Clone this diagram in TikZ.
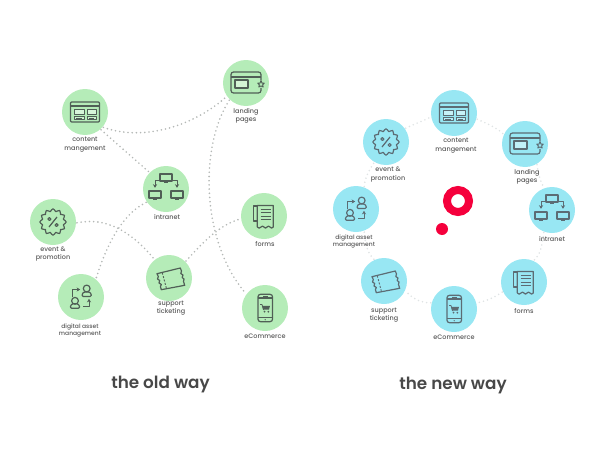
\documentclass[tikz,border=0pt]{standalone}
\usepackage{fontspec}
\setmainfont{Poppins}
\newfontfamily\labfont{Poppins Medium}
\newfontfamily\titlefont{Poppins SemiBold}
\usetikzlibrary{arrows.meta}
\definecolor{greenfill}{HTML}{B5ECB8}
\definecolor{bluefill}{HTML}{98E7F3}
\definecolor{greenicon}{HTML}{505F56}
\definecolor{blueicon}{HTML}{5C6C74}
\definecolor{labelgray}{HTML}{5A5A5A}
\definecolor{titlegray}{HTML}{484848}
\definecolor{olddot}{HTML}{B4B8B6}
\definecolor{newdot}{HTML}{E0E4E5}
\definecolor{brandred}{HTML}{F5003C}
\colorlet{iconcol}{greenicon}
\colorlet{circcol}{greenfill}
\tikzset{
  greennode/.style={circle,minimum size=46pt,inner sep=0pt,outer sep=1pt,fill=greenfill},
  bluenode/.style={circle,minimum size=46pt,inner sep=0pt,outer sep=1pt,fill=bluefill},
  lab/.style={text=labelgray,align=center,inner sep=0pt,font=\fontsize{6.5}{8.4}\labfont},
  labsmall/.style={lab,font=\fontsize{6}{7.6}\labfont},
  waytitle/.style={text=titlegray,inner sep=0pt,font=\fontsize{16.8}{20}\titlefont},
  olddots/.style={draw=olddot,line width=1.8pt,line cap=round,dash pattern=on 0pt off 4.2pt},
  newdots/.style={draw=newdot,line width=1.8pt,line cap=round,dash pattern=on 0pt off 4.2pt},
  ic/.style={draw=iconcol,line width=1.2pt,line join=round},
  tip/.style={-{Stealth[length=3.6pt,width=4.2pt]}},
  pics/contenticon/.style={code={
    \draw[ic,rounded corners=1pt] (-14.5,-10) rectangle (14.5,10);
    \draw[ic] (-14.5,-6) -- (14.5,-6);
    \draw[ic,line width=.8pt,fill=circcol!55!white] (-11,-3) rectangle (-1,2);
    \draw[ic,line width=.8pt,fill=circcol!55!white] (2,-3) rectangle (11,2);
    \draw[ic,line width=.8pt,fill=circcol!70!white] (-11,4.5) rectangle (-1,7.5);
    \draw[ic,line width=.8pt,fill=circcol!70!white] (2,4.5) rectangle (11,7.5);
    \draw[ic,line width=.7pt] (-9,6) -- (-3,6) (4,6) -- (9,6);
  }},
  pics/landingicon/.style={code={
    \draw[ic,rounded corners=2.5pt] (-15,-11) rectangle (15,10);
    \draw[ic] (-15,-6) -- (15,-6);
    \draw[ic,fill=circcol!60!white] (-11,-3) rectangle (2,5);
    \fill[circcol] (15,1) circle (4);
    \draw[ic,line width=.9pt] (15,-2.5) -- (16,.1) -- (18.3,.2) -- (16.6,1.8) -- (17.2,4) -- (15,2.9) -- (12.8,4) -- (13.4,1.8) -- (11.7,.2) -- (14,.1) -- cycle;
  }},
  pics/monitor/.style={code={
    \draw[ic] (-6,-4) rectangle (6,3);
    \draw[ic,line width=1.6pt] (-2,4.3) -- (2,4.3);
  }},
  pics/intraneticon/.style={code={
    \pic at (0,-11) {monitor};
    \pic at (-11,6) {monitor};
    \pic at (11,6) {monitor};
    \draw[ic,line width=1pt,tip] (-6.5,-8.5) -- (-11,-8.5) -- (-11,-1.2);
    \draw[ic,line width=1pt,tip] (6.5,-8.5) -- (11,-8.5) -- (11,-1.2);
  }},
  pics/eventicon/.style={code={
    \draw[ic] plot[smooth cycle,domain=0:352.5,samples=48,variable=\a]
      ({(12+1.3*cos(12*\a))*cos(\a)},{(12+1.3*cos(12*\a))*sin(\a)});
    \draw[ic] (-4,5) -- (4,-5);
    \draw[ic] (-3.6,-3) circle (1.5) (3.6,3) circle (1.5);
  }},
  pics/digitalicon/.style={code={
    \draw[ic] (5.7,-8.5) circle (3.4);
    \draw[ic,rounded corners=1pt] (1.2,-0.6) -- (1.2,-3.2) -- (3,-5) -- (8.4,-5) -- (10.2,-3.2) -- (10.2,-0.6) -- cycle;
    \draw[ic] (-6,3.8) circle (3.4);
    \draw[ic,rounded corners=1pt] (-10.5,11.2) -- (-10.5,8.6) -- (-8.7,6.8) -- (-3.3,6.8) -- (-1.5,8.6) -- (-1.5,11.2) -- cycle;
    \draw[ic,line width=1pt,tip] (-9,-.5) -- (-9,-7.5) -- (-0.8,-7.5);
    \draw[ic,line width=1pt,tip] (2,9.5) -- (8,9.5) -- (8,1.8);
  }},
  pics/supporticon/.style={code={
    \draw[ic] (-12,-4.3) -- (11.3,-10) -- (12.5,-7) -- (11.8,-4.5) -- (14,-3) -- (13.2,-.5) -- (15,1) -- (14.5,3.5) -- (15.7,7.3)
       -- (-7.7,11.7) -- (-8.6,8.5) -- (-7.6,6.5) -- (-10,5) -- (-9.3,2.5) -- (-11.5,1) -- (-10.7,-1.5) -- cycle;
    \draw[ic,line width=.9pt,dash pattern=on 2pt off 1.5pt] (-6.7,-5.3) -- (-2.7,10);
  }},
  pics/formsicon/.style={code={
    \draw[ic] (-6.7,-10) -- (-10.7,-10) -- (-10.7,5) -- (-6.7,5);
    \draw[ic] (-6.7,11) -- (-6.7,-10.5) -- (9.3,-10.5) -- (9.3,11)
      .. controls (8,12.5) and (7,12.5) .. (6,11) .. controls (5,9.8) and (4,9.8) .. (3,11) .. controls (2,12.5) and (1,12.5) .. (0,11)
      .. controls (-1,9.8) and (-2,9.8) .. (-3,11) .. controls (-4,12.5) and (-5.5,12.5) .. (-6.7,11);
    \draw[ic,line width=.9pt] (-3.3,-6.7) -- (6.7,-6.7) (-3.3,-3.3) -- (6.7,-3.3) (-3.3,0) -- (6.7,0) (-3.3,3.3) -- (6.7,3.3);
  }},
  pics/ecomicon/.style={code={
    \draw[ic,rounded corners=2.5pt] (-7,-13.7) rectangle (7.5,13.7);
    \draw[ic] (-7,-10) -- (7.5,-10) (-7,9.5) -- (7.5,9.5);
    \draw[ic,line width=.8pt] (-2,-12) -- (2.5,-12);
    \fill[iconcol] (0.2,11.7) circle (.7);
    \draw[ic,line width=.8pt] (-5,-3.5) -- (-3,-3.5) -- (-1.5,2);
    \fill[iconcol] (-2.8,-2.2) -- (5,-2.2) -- (4,1.6) -- (-1.6,1.6) -- cycle;
    \fill[iconcol] (-.5,3.7) circle (1) (3.3,3.7) circle (1);
  }},
}
\begin{document}
\begin{tikzpicture}[x=1pt,y=-1pt]
\useasboundingbox (0,0) rectangle (598,450);
% old way
\node[greennode] (oc) at (85,112) {};
\node[greennode] (ol) at (246,83) {};
\node[greennode] (oi) at (166,189) {};
\node[greennode] (oe) at (53,222) {};
\node[greennode] (od) at (81,297) {};
\node[greennode] (os) at (169,278) {};
\node[greennode] (of) at (264,216) {};
\node[greennode] (om) at (265,308) {};
\pic at (oc) {contenticon};
\pic at (ol) {landingicon};
\pic at (oi) {intraneticon};
\pic at (oe) {eventicon};
\pic at (od) {digitalicon};
\pic at (os) {supporticon};
\pic at (of) {formsicon};
\pic at (om) {ecomicon};
\draw[olddots] (oc.-40) .. controls (145,142) and (195,125) .. (ol.215);
\draw[olddots] (oc.-48) -- (oi.135);
\draw[olddots] (ol.226) .. controls (200,145) and (200,240) .. (om.143);
\draw[olddots] (oi.214) .. controls (120,215) and (105,250) .. (od.51);
\draw[olddots] (oe.-2) .. controls (105,217) and (130,230) .. (os.128);
\draw[olddots] (os.45) .. controls (205,240) and (220,225) .. (of.187);
\node[lab] (toc) at (85,144.5) {content\\mangement};
\node[lab] (tol) at (246,116) {landing\\pages};
\node[lab] (toi) at (167,217) {intranet};
\node[lab] (toe) at (53,254) {event \&\\promotion};
\node[labsmall] (tod) at (80,330.5) {digital asset\\management};
\node[lab] (tos) at (171,308) {support\\ticketing};
\node[lab] (tof) at (265,244) {forms};
\node[lab] (tom) at (265,336) {eCommerce};
\node[waytitle] (t1) at (160.5,384.5) {the old way};
% new way
\colorlet{iconcol}{blueicon}
\colorlet{circcol}{bluefill}
\node[bluenode] (nc) at (454,113) {};
\node[bluenode] (nl) at (525,144) {};
\node[bluenode] (ni) at (552,210) {};
\node[bluenode] (nf) at (524,282) {};
\node[bluenode] (nm) at (454,309) {};
\node[bluenode] (ns) at (384,281) {};
\node[bluenode] (nd) at (356,209) {};
\node[bluenode] (ne) at (386,142) {};
\pic at (nc) {contenticon};
\pic at (nl) {landingicon};
\pic at (ni) {intraneticon};
\pic at (nf) {formsicon};
\pic at (nm) {ecomicon};
\pic at (ns) {supporticon};
\pic at (nd) {digitalicon};
\pic at (ne) {eventicon};
\draw[newdots] (ne.35) .. controls (414,124) and (423,121) .. (nc.190);
\draw[newdots] (nc.-15) .. controls (488,124) and (497,128) .. (nl.155);
\draw[newdots] (nl.-60) .. controls (539,178) and (541,182) .. (ni.110);
\draw[newdots] (ni.-110) .. controls (542,248) and (540,254) .. (nf.65);
\draw[newdots] (nf.205) .. controls (495,297) and (487,301) .. (nm.15);
\draw[newdots] (nm.165) .. controls (421,303) and (413,299) .. (ns.-25);
\draw[newdots] (ns.115) .. controls (369,254) and (366,250) .. (nd.-70);
\draw[newdots] (nd.70) .. controls (365,178) and (368,172) .. (ne.-120);
\node[lab] (tnc) at (456,145.5) {content\\mangement};
\node[lab] (tnl) at (527,177) {landing\\pages};
\node[lab] (tni) at (552,239) {intranet};
\node[lab] (tnf) at (524,311) {forms};
\node[lab] (tnm) at (454,337) {eCommerce};
\node[lab] (tns) at (384,315) {support\\ticketing};
\node[labsmall] (tnd) at (354,241.5) {digital asset\\management};
\node[lab] (tne) at (388,174.5) {event \&\\promotion};
\node[waytitle] (t2) at (453,385) {the new way};
% logo
\draw[brandred,line width=8pt] (458,201) circle (11);
\fill[brandred] (442,229) circle (6);
\end{tikzpicture}
\end{document}
